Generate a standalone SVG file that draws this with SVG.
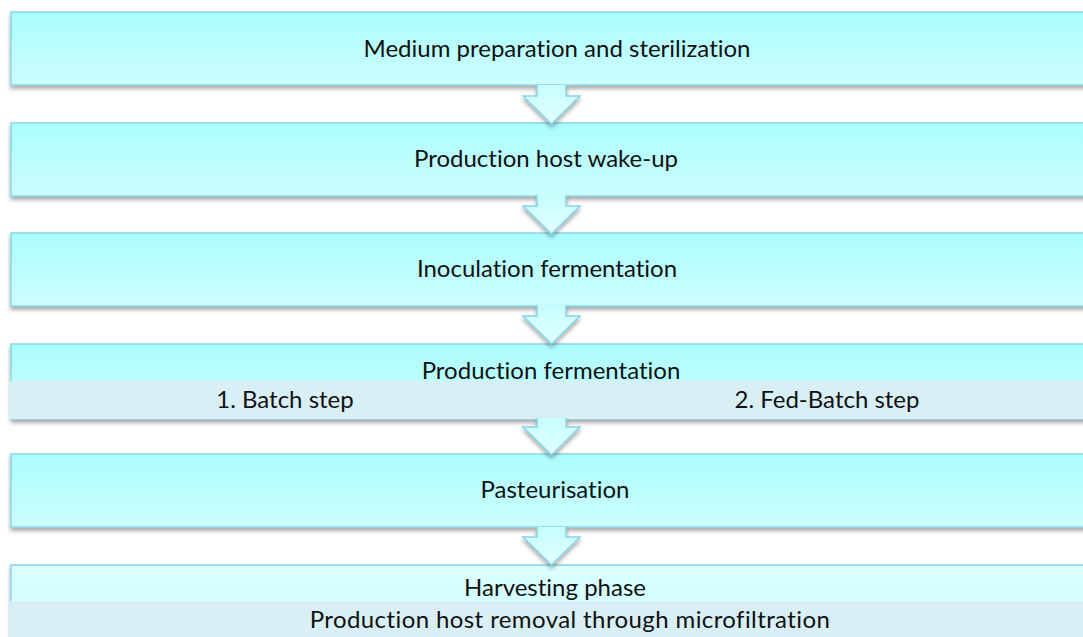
<svg xmlns="http://www.w3.org/2000/svg" width="1083" height="637" viewBox="0 0 1083 637">
<defs>
<linearGradient id="g" x1="0" y1="0" x2="0" y2="1"><stop offset="0" stop-color="#abfdfe"/><stop offset="1" stop-color="#cdfefe"/></linearGradient>
<linearGradient id="g2" x1="0" y1="0" x2="0" y2="1"><stop offset="0" stop-color="#dcffff"/><stop offset="1" stop-color="#c9feff"/></linearGradient>
<linearGradient id="ga" x1="0" y1="0" x2="0" y2="1"><stop offset="0" stop-color="#c6fefe"/><stop offset="1" stop-color="#e2ffff"/></linearGradient>
<filter id="sh" x="-5%" y="-20%" width="110%" height="150%"><feDropShadow dx="0" dy="3" stdDeviation="2" flood-color="#000" flood-opacity="0.35"/></filter>
<style>
.box{fill:url(#g);stroke:#8bd5e6;stroke-width:1.5;filter:url(#sh)}
.sub{fill:#d8eff5}
.arr{fill:url(#ga);stroke:#86d3e6;stroke-width:1.5;stroke-linejoin:miter;filter:url(#sh)}
text{font-family:Lato,"Open Sans","Liberation Sans",sans-serif;font-size:24px;fill:#111;text-anchor:middle;font-variant-ligatures:none}
</style>
</defs>
<g id="n1"><rect class="box" x="11" y="12" width="1090" height="73"/><text x="557" y="57">Medium preparation and sterilization</text></g>
<g id="n2"><rect class="box" x="11" y="123" width="1090" height="73"/><text x="546" y="167">Production host wake-up</text></g>
<g id="n3"><rect class="box" x="11" y="233" width="1090" height="73"/><text x="547" y="277">Inoculation fermentation</text></g>
<g id="n4"><rect class="box" x="11" y="344" width="1090" height="75"/><rect class="sub" x="9" y="381" width="1090" height="38"/><text x="551" y="379">Production fermentation</text><text x="285" y="408">1. Batch step</text><text x="827" y="408">2. Fed-Batch step</text></g>
<g id="n5"><rect class="box" x="11" y="454" width="1090" height="73"/><text x="555" y="498">Pasteurisation</text></g>
<g id="n6"><rect class="box" x="11" y="565" width="1090" height="80" style="fill:url(#g2)"/><rect class="sub" x="9" y="601" width="1090" height="40"/><text x="555" y="596">Harvesting phase</text><text x="570" y="628" style="letter-spacing:0.4px">Production host removal through microfiltration</text></g>
<g id="connectors">
<path class="arr" d="M537,85 V96 H523 L551.5,124 L580,96 H566 V85"/>
<path class="arr" d="M537,195 V206 H523 L551.5,234 L580,206 H566 V195"/>
<path class="arr" d="M537,305 V316 H523 L551.5,344 L580,316 H566 V305"/>
<path class="arr" d="M537,418 V427 H523 L551.5,455 L580,427 H566 V418"/>
<path class="arr" d="M537,527 V537 H523 L551.5,565 L580,537 H566 V527"/>
</g>
</svg>
